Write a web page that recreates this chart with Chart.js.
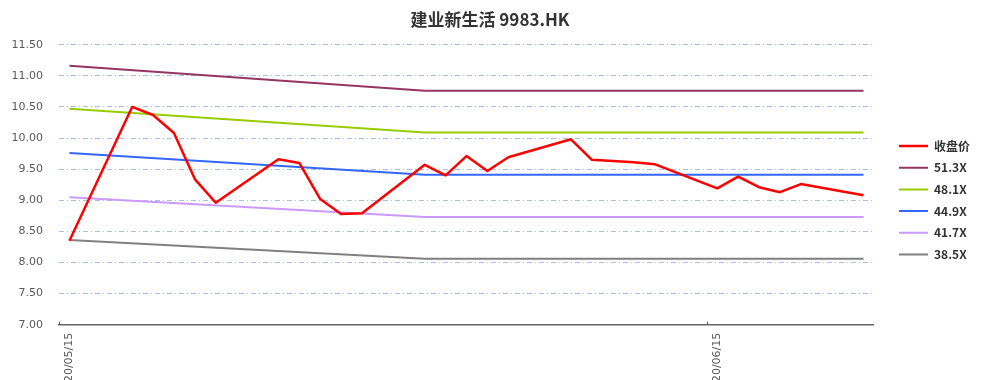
<!DOCTYPE html>
<html>
<head>
<meta charset="utf-8">
<script src="https://cdn.jsdelivr.net/npm/chart.js@4.4.0/dist/chart.umd.min.js"></script>
<style>
  html, body { margin: 0; padding: 0; background: #ffffff; }
  #wrap { position: relative; width: 993px; height: 380px; }
</style>
</head>
<body>
<div id="wrap"><canvas id="c" width="993" height="380"></canvas></div>
<script>
// ---- data ----
const titleText = '建业新生活 9983.HK';
const dates = ['2020-05-15','2020-05-18','2020-05-19','2020-05-20','2020-05-21','2020-05-22',
  '2020-05-25','2020-05-26','2020-05-27','2020-05-28','2020-05-29',
  '2020-06-01','2020-06-02','2020-06-03','2020-06-04','2020-06-05',
  '2020-06-08','2020-06-09','2020-06-10','2020-06-11','2020-06-12',
  '2020-06-15','2020-06-16','2020-06-17','2020-06-18','2020-06-19','2020-06-22'];
const closePrices = [8.35,10.50,10.37,10.08,9.34,8.96,
  9.66,9.60,9.02,8.78,8.79,
  9.57,9.40,9.71,9.47,9.69,
  9.98,9.65,9.63,9.61,9.58,
  9.19,9.38,9.21,9.13,9.26,9.08];
const bandDates = ['2020-05-15','2020-06-01','2020-06-22'];
const band513 = [11.16,10.76,10.76];
const band481 = [10.47,10.09,10.09];
const band449 = [9.76,9.41,9.41];
const band417 = [9.05,8.73,8.73];
const band385 = [8.36,8.06,8.06];
const seriesNames = ['收盘价','51.3X','48.1X','44.9X','41.7X','38.5X'];
const tickDates = ['2020-05-15','2020-06-15'];
const yMin = 7.0, yMax = 11.5, yStep = 0.5;
const lastDate = '2020-06-22';

// ---- helpers ----
const DAY = 86400000;
const dayIndex = s => Math.round((Date.parse(s) - Date.parse(dates[0])) / DAY);
const fmtDate = s => s.slice(2).replace(/-/g, '/');
const toPts = (ds, vs) => ds.map((d, i) => ({x: dayIndex(d), y: vs[i]}));

const colors = ['#ff0000','#953563','#99cc00','#3366ff','#cc99ff','#808080'];
const bandArrays = [band513, band481, band449, band417, band385];

const datasets = [{
  label: seriesNames[0],
  data: toPts(dates, closePrices),
  borderColor: colors[0], backgroundColor: colors[0],
  borderWidth: 2.5, pointRadius: 0, tension: 0, borderJoinStyle: 'round'
}];
bandArrays.forEach((arr, i) => {
  datasets.push({
    label: seriesNames[i + 1],
    data: toPts(bandDates, arr),
    borderColor: colors[i + 1], backgroundColor: colors[i + 1],
    borderWidth: 2, pointRadius: 0, tension: 0
  });
});

const tickMarks = {
  id: 'tickMarks',
  afterDraw(chart) {
    const xs = chart.scales.x, ctx = chart.ctx, b = chart.chartArea.bottom;
    ctx.save();
    ctx.strokeStyle = '#595959';
    ctx.lineWidth = 1;
    tickDates.forEach(d => {
      const px = Math.round(xs.getPixelForValue(dayIndex(d) - 0.5)) + 0.5;
      ctx.beginPath();
      ctx.moveTo(px, b);
      ctx.lineTo(px, b - 3);
      ctx.stroke();
    });
    ctx.restore();
  }
};

new Chart(document.getElementById('c'), {
  type: 'line',
  data: { datasets },
  plugins: [tickMarks],
  options: {
    responsive: false,
    animation: false,
    layout: { padding: { left: 0, right: 13, top: 0, bottom: 0 } },
    plugins: {
      title: {
        display: true, text: titleText,
        color: '#333333',
        font: { family: '"Noto Sans CJK SC", sans-serif', size: 17, weight: 'bold', lineHeight: 1.2 },
        padding: { top: 9, bottom: 15.3 }
      },
      legend: {
        display: true, position: 'right', align: 'start',
        title: { display: true, text: ' ', font: { size: 10, lineHeight: 1 }, padding: { top: 120.3, bottom: 0 } },
        labels: {
          usePointStyle: true, pointStyle: 'line', pointStyleWidth: 29,
          padding: 9.7, color: '#333333',
          font: { family: '"Noto Sans CJK SC", sans-serif', size: 12, weight: 'bold' }
        }
      },
      tooltip: { enabled: false }
    },
    scales: {
      x: {
        type: 'linear',
        min: -0.5, max: dayIndex(lastDate) + 0.5,
        afterBuildTicks(s) { s.ticks = tickDates.map(d => ({ value: dayIndex(d) })); },
        afterFit(s) { s.height = 55.3; },
        grid: { display: true, drawOnChartArea: false, drawTicks: false },
        border: { display: true, color: '#666666', width: 1.5 },
        ticks: {
          autoSkip: false, minRotation: 90, maxRotation: 90, padding: 8,
          color: '#595959',
          font: { family: '"DejaVu Sans", sans-serif', size: 11 },
          callback: (v) => {
            const d = tickDates.find(t => dayIndex(t) === v);
            return d ? fmtDate(d) : '';
          }
        }
      },
      y: {
        min: yMin, max: yMax,
        afterFit(s) { s.width = 59; },
        grid: {
          drawTicks: false,
          color: (c) => (c.tick && c.tick.value === yMin) ? 'rgba(0,0,0,0)' : '#a3c2ea',
          lineWidth: 1
        },
        border: { display: false, dash: [5, 3, 1, 3] },
        ticks: {
          stepSize: yStep, padding: 16, color: '#595959',
          font: { family: '"DejaVu Sans", sans-serif', size: 11 },
          callback: (v) => Number(v).toFixed(2)
        }
      },
      gap: {
        position: 'right', display: true,
        afterFit(s) { s.width = 15.3; },
        grid: { display: false }, border: { display: false },
        ticks: { display: false }
      }
    }
  }
});
</script>
</body>
</html>
